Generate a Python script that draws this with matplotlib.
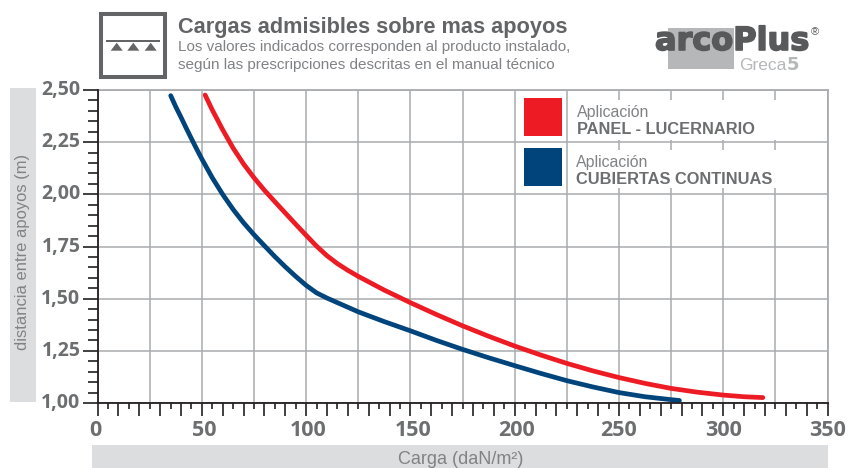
import matplotlib
matplotlib.use("Agg")
import matplotlib.pyplot as plt
from matplotlib.patches import Rectangle, Polygon
import matplotlib.patheffects as pe

plt.rcParams['font.family'] = ['Liberation Sans', 'DejaVu Sans']

red_x = [51.6, 55, 60, 65, 70, 75, 80, 85, 90, 95, 100, 105, 110, 115, 120, 125, 137.5, 150, 162.5, 175, 187.5, 200, 212.5, 225, 237.5, 250, 262.5, 275, 287.5, 300, 310, 319]
red_y = [2.476, 2.405, 2.31, 2.222, 2.146, 2.08, 2.02, 1.965, 1.911, 1.857, 1.804, 1.752, 1.706, 1.668, 1.636, 1.607, 1.541, 1.481, 1.424, 1.37, 1.32, 1.273, 1.23, 1.19, 1.154, 1.122, 1.094, 1.07, 1.052, 1.038, 1.03, 1.026]
blue_x = [35.1, 37.5, 40, 42.5, 45, 47.5, 50, 55, 60, 65, 70, 75, 80, 85, 90, 95, 100, 105, 110, 115, 120, 125, 137.5, 150, 162.5, 175, 187.5, 200, 212.5, 225, 237.5, 250, 262.5, 275, 279]
blue_y = [2.473, 2.42, 2.37, 2.318, 2.2675, 2.218, 2.17, 2.08, 2.0, 1.928, 1.864, 1.807, 1.754, 1.702, 1.653, 1.607, 1.564, 1.528, 1.503, 1.481, 1.459, 1.437, 1.39, 1.346, 1.30, 1.257, 1.217, 1.179, 1.142, 1.107, 1.077, 1.05, 1.03, 1.016, 1.012]
x_labels = [0, 50, 100, 150, 200, 250, 300, 350]
y_labels = ['1,00', '1,25', '1,50', '1,75', '2,00', '2,25', '2,50']
y_ticks = [1.0, 1.25, 1.5, 1.75, 2.0, 2.25, 2.5]
x_label_shift = [-2.5, 2.5, 2, 3, 1.5, 0, 0, 0]

W, H = 848, 468
fig = plt.figure(figsize=(W/100, H/100), dpi=100)
L, R, T, B = 97.5, 827.5, 90, 403
ax = fig.add_axes([L/W, (H-B)/H, (R-L)/W, (B-T)/H])
ax.set_xlim(0, 350)
ax.set_ylim(1, 2.5)
GRID = '#a9abae'; DARK = '#231f20'; TXT = '#6d6e70'
ax.set_xticks([v for v in range(0, 351, 25)])
ax.set_yticks(y_ticks)
ax.grid(True, color=GRID, lw=1.1, zorder=1)
ax.tick_params(length=0, labelbottom=False, labelleft=False)
for s in ('top', 'right'):
    ax.spines[s].set_color(GRID); ax.spines[s].set_linewidth(1.3)
for s in ('left', 'bottom'):
    ax.spines[s].set_color(DARK); ax.spines[s].set_linewidth(1.3)
    ax.spines[s].set_zorder(5)

xt = ax.get_xaxis_transform()
yt = ax.get_yaxis_transform()
def px(n):
    return n / (B - T)
def pxw(n):
    return n / (R - L)
for i in range(0, 71):
    v = i * 5
    ln = 13 if i % 2 == 0 else 6
    ax.plot([v, v], [0, -px(ln)], transform=xt, color=DARK, lw=1.2, clip_on=False, zorder=5, solid_capstyle='butt')
for i in range(0, 31):
    v = 1 + i * 0.05
    ln = 15 if i % 5 == 0 else 9.5
    ax.plot([0, -pxw(ln)], [v, v], transform=yt, color=DARK, lw=1.2, clip_on=False, zorder=5, solid_capstyle='butt')

for v, d in zip(x_labels, x_label_shift):
    ax.annotate(str(v), (v, 0), xycoords=xt, xytext=(d*0.72, -28*0.72), textcoords='offset points',
                ha='center', va='center', fontsize=15.5, fontweight='bold', color=TXT,
                family='Open Sans', annotation_clip=False)
for v, s in zip(y_ticks, y_labels):
    ax.text(-pxw(17), v, s, transform=yt, ha='right', va='center', fontsize=14, fontweight='bold',
            color=TXT, family='Open Sans')

def fr(x, y, w, h, **kw):
    fig.add_artist(Rectangle((x/W, 1-(y+h)/H), w/W, h/H, transform=fig.transFigure, **kw))
def t(x, y, s, **kw):
    fig.text(x/W, 1-y/H, s, **kw)

# legend
fr(569, 100, 250, 40, color='white', lw=0, zorder=3)
fr(569, 150, 250, 38, color='white', lw=0, zorder=3)
fr(524, 97.7, 38, 38, color='#ed1c24', lw=0, zorder=4)
fr(524, 147.7, 38, 38, color='#00447c', lw=0, zorder=4)
t(577, 112.5, 'Aplicación', fontsize=11.4, color='#808285', va='center', zorder=6)
t(577, 130, 'PANEL - LUCERNARIO', fontsize=11.8, color=TXT, va='center', fontweight='bold', zorder=6)
t(576, 162.5, 'Aplicación', fontsize=11.4, color='#808285', va='center', zorder=6)
t(576, 180, 'CUBIERTAS CONTINUAS', fontsize=11.8, color=TXT, va='center', fontweight='bold', zorder=6)

ax.plot(red_x, red_y, color='#ed1c24', lw=3.4, zorder=4, solid_capstyle='round', solid_joinstyle='round', clip_on=False)
ax.plot(blue_x, blue_y, color='#00447c', lw=3.4, zorder=4, solid_capstyle='round', solid_joinstyle='round', clip_on=False)

# grey label bands
fr(10, 88, 26, 314, color='#dcddde', lw=0)
fr(92, 445, 736, 23, color='#dcddde', lw=0)
t(23, 252, 'distancia entre apoyos (m)', rotation=90, fontsize=11.9, color='#808285', ha='center', va='center')
t(461, 459.5, 'Carga (daN/m²)', fontsize=13, color='#808285', ha='center', va='center')

# header icon
fig.add_artist(Rectangle((101.3/W, 1-77/H), 63.3/W, 63.3/H, transform=fig.transFigure, fill=False, ec='#636466', lw=2.9))
fig.add_artist(Rectangle((106/W, 1-41.5/H), 54/W, 1.6/H, transform=fig.transFigure, color='#636466', lw=0))
for c in (116.7, 133.3, 150.7):
    fig.add_artist(Polygon([((c-6)/W, 1-50.7/H), ((c+6)/W, 1-50.7/H), (c/W, 1-42.7/H)], transform=fig.transFigure, color='#636466', lw=0))
t(178, 27, 'Cargas admisibles sobre mas apoyos', fontsize=15.7, fontweight='bold', color='#636466', va='center')
t(178, 47, 'Los valores indicados corresponden al producto instalado,', fontsize=11, color='#808285', va='center')
t(178, 65, 'según las prescripciones descritas en el manual técnico', fontsize=11, color='#808285', va='center')

# logo
fr(668, 28, 66, 41, color='#b5b7b9', lw=0)
t(655, 50, 'arcoPlus', fontsize=23, fontweight='bold', color='#58595b', va='baseline', family='DejaVu Sans',
  path_effects=[pe.withStroke(linewidth=1.2, foreground='#58595b')])
t(739, 65, 'Greca', fontsize=12.5, color='#b5b7b9', va='center')
t(787, 65, '5', fontsize=13, fontweight='bold', color='#b5b7b9', va='center', family='DejaVu Sans')
t(811, 32, '®', fontsize=8, color='#58595b', va='center')

fig.savefig('out.png', dpi=100)
